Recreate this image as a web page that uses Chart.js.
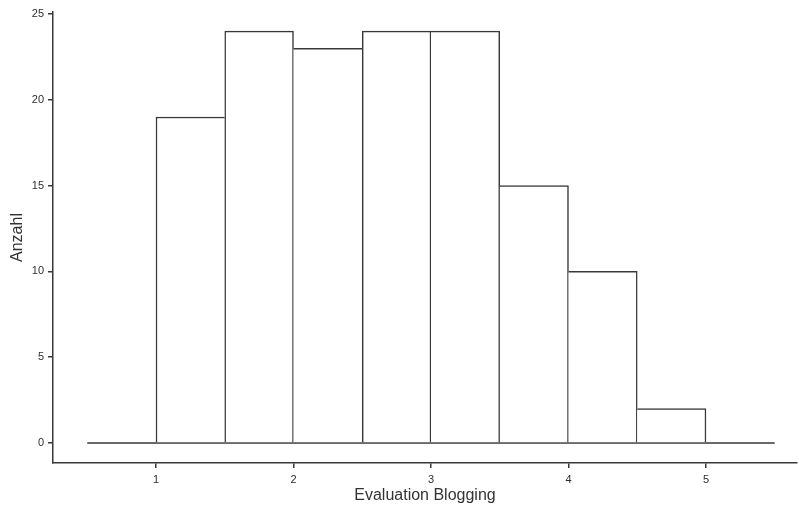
<!DOCTYPE html>
<html>
<head>
<meta charset="utf-8">
<script src="https://cdn.jsdelivr.net/npm/chart.js@4"></script>
<style>
  html, body { margin: 0; padding: 0; background: #fff; }
  #wrap { width: 799px; height: 505px; }
</style>
</head>
<body>
<div id="wrap"><canvas id="myChart" width="799" height="505"></canvas></div>
<script>
// histogram bins (centre of each 0.5 wide bin) and counts
const binCenters = [1.25, 1.75, 2.25, 2.75, 3.25, 3.75, 4.25, 4.75];
const counts = [19, 24, 23, 24, 24, 15, 10, 2];
const baseline = [0.5, 5.5];
const xTicks = [1, 2, 3, 4, 5];
const yTicks = [0, 5, 10, 15, 20, 25];

const lineCol = '#383838';
const tickCol = '#2e2e2e';

// shared edge between two bins is drawn only by the taller one
function edges(i) {
  const h = counts[i];
  const prev = i > 0 ? counts[i - 1] : -1;
  const next = i < counts.length - 1 ? counts[i + 1] : -1;
  return {
    top: 1.5,
    left: h > prev ? 1.5 : 0,
    right: h >= next ? 1.5 : 0,
    bottom: 0
  };
}

const ctx = document.getElementById('myChart').getContext('2d');
const chart = new Chart(ctx, {
  data: {
    datasets: [{
      type: 'bar',
      data: binCenters.map((x, i) => ({ x: x, y: counts[i] })),
      backgroundColor: '#ffffff',
      borderColor: lineCol,
      borderWidth: c => edges(c.dataIndex),
      borderSkipped: 'start',
      barPercentage: 1,
      categoryPercentage: 1
    }, {
      type: 'line',
      data: baseline.map(x => ({ x: x, y: 0 })),
      borderColor: lineCol,
      borderWidth: 1.5,
      pointRadius: 0
    }]
  },
  options: {
    responsive: false,
    animation: false,
    layout: { padding: { top: 12, right: 2, left: 0, bottom: 0 } },
    plugins: { legend: { display: false }, tooltip: { enabled: false } },
    scales: {
      x: {
        type: 'linear',
        min: 0.2509,
        max: 5.662,
        offset: false,
        afterBuildTicks: s => { s.ticks = xTicks.map(v => ({ value: v })); },
        afterFit: s => { s.height = 42; },
        grid: { display: true, drawOnChartArea: false, drawTicks: true, tickLength: 5, color: lineCol, lineWidth: 1.5, offset: false },
        border: { display: true, color: lineCol, width: 1.5 },
        ticks: { color: tickCol, padding: 5, maxRotation: 0, font: { family: "'Liberation Sans', Arial", size: 11 } },
        title: { display: true, text: 'Evaluation Blogging', color: '#333', padding: { top: 0, bottom: 0 }, font: { family: "'Liberation Sans', Arial", size: 16 } }
      },
      y: {
        type: 'linear',
        min: -1.166,
        max: 25.117,
        afterBuildTicks: s => { s.ticks = yTicks.map(v => ({ value: v })); },
        afterFit: s => { s.width = 53; },
        grid: { display: true, drawOnChartArea: false, drawTicks: true, tickLength: 5, color: lineCol, lineWidth: 1.5 },
        border: { display: true, color: lineCol, width: 1.5 },
        ticks: { color: tickCol, padding: 4, font: { family: "'Liberation Sans', Arial", size: 11 } },
        title: { display: true, text: 'Anzahl', color: '#333', padding: { top: 8, bottom: 0 }, font: { family: "'Liberation Sans', Arial", size: 16 } }
      }
    }
  }
});
</script>
</body>
</html>
